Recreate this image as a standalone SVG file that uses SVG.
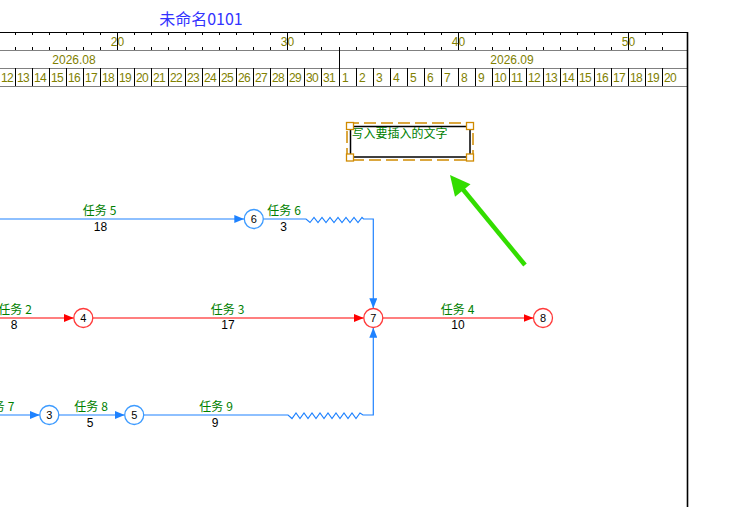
<svg xmlns="http://www.w3.org/2000/svg" width="734" height="507" viewBox="0 0 734 507">
<style>
.rt{font-family:"Liberation Sans",sans-serif;font-size:12px;fill:#808000}
.day{letter-spacing:-0.6px}
.mid{text-anchor:middle}
.lbl{font-family:"Noto Sans CJK SC",sans-serif;font-size:12px;fill:#008000;text-anchor:middle}
.num{font-family:"Liberation Sans",sans-serif;font-size:12px;fill:#000;text-anchor:middle}
.nd circle{fill:#fff;stroke-width:1.3}
.nd text{font-family:"Liberation Sans",sans-serif;font-size:11px;fill:#000;text-anchor:middle}
.nb circle{stroke:#3d9bff}
.nr circle{stroke:#ff3a3a}
.eb{fill:none;stroke:#1e82ff;stroke-width:1.2}
.er{fill:none;stroke:#ff0000;stroke-width:1.2}
</style>
<defs>
<marker id="ab" markerUnits="userSpaceOnUse" markerWidth="10" markerHeight="8" refX="10" refY="4" orient="auto"><path d="M0,0 L10,4 L0,8 z" fill="#1e82ff"/></marker>
<marker id="ar" markerUnits="userSpaceOnUse" markerWidth="10" markerHeight="8" refX="10" refY="4" orient="auto"><path d="M0,0 L10,4 L0,8 z" fill="#ff0000"/></marker>
</defs>
<rect width="734" height="507" fill="#fff"/>
<text x="201" y="25" text-anchor="middle" style="font-family:'Noto Sans CJK SC',sans-serif;font-size:16px;fill:#3333ff">未命名0101</text>
<g id="ruler">
<path d="M0,50.5 H687 M0,68.5 H687 M0,86.5 H687" stroke="#808080" stroke-width="1" fill="none"/>
<path d="M0,32.5 H688" stroke="#000" stroke-width="1.2" fill="none"/>
<path stroke="#000" stroke-width="1" fill="none" d="M15.5,32v3M32.5,32v3M49.5,32v3M66.5,32v3M83.5,32v3M100.5,32v3M134.5,32v3M151.5,32v3M168.5,32v3M185.5,32v3M202.5,32v3M219.5,32v3M236.5,32v3M253.5,32v3M270.5,32v3M304.5,32v3M321.5,32v3M339.5,32v3M356.5,32v3M373.5,32v3M390.5,32v3M407.5,32v3M424.5,32v3M441.5,32v3M475.5,32v3M492.5,32v3M509.5,32v3M526.5,32v3M543.5,32v3M560.5,32v3M577.5,32v3M594.5,32v3M611.5,32v3M645.5,32v3M662.5,32v3
M15.5,47v3M32.5,47v3M49.5,47v3M66.5,47v3M83.5,47v3M100.5,47v3M134.5,47v3M151.5,47v3M168.5,47v3M185.5,47v3M202.5,47v3M219.5,47v3M236.5,47v3M253.5,47v3M270.5,47v3M304.5,47v3M321.5,47v3M356.5,47v3M373.5,47v3M390.5,47v3M407.5,47v3M424.5,47v3M441.5,47v3M475.5,47v3M492.5,47v3M509.5,47v3M526.5,47v3M543.5,47v3M560.5,47v3M577.5,47v3M594.5,47v3M611.5,47v3M645.5,47v3M662.5,47v3
M117.5,32V50M287.5,32V50M458.5,32V50M628.5,32V50M339.5,47V86
M15.5,68v18M32.5,68v18M49.5,68v18M66.5,68v18M83.5,68v18M100.5,68v18M117.5,68v18M134.5,68v18M151.5,68v18M168.5,68v18M185.5,68v18M202.5,68v18M219.5,68v18M236.5,68v18M253.5,68v18M270.5,68v18M287.5,68v18M304.5,68v18M321.5,68v18M356.5,68v18M373.5,68v18M390.5,68v18M407.5,68v18M424.5,68v18M441.5,68v18M458.5,68v18M475.5,68v18M492.5,68v18M509.5,68v18M526.5,68v18M543.5,68v18M560.5,68v18M577.5,68v18M594.5,68v18M611.5,68v18M628.5,68v18M645.5,68v18M662.5,68v18"/>
<text class="rt mid" x="117.5" y="45.5">20</text>
<text class="rt mid" x="287.5" y="45.5">30</text>
<text class="rt mid" x="458.5" y="45.5">40</text>
<text class="rt mid" x="628.5" y="45.5">50</text>
<text class="rt mid" x="74" y="63.5">2026.08</text>
<text class="rt mid" x="512" y="63.5">2026.09</text>
<g class="rt day">
<text x="1" y="81.5">12</text><text x="17" y="81.5">13</text><text x="34" y="81.5">14</text><text x="51" y="81.5">15</text><text x="68" y="81.5">16</text><text x="85" y="81.5">17</text><text x="102" y="81.5">18</text><text x="119" y="81.5">19</text><text x="136" y="81.5">20</text><text x="153" y="81.5">21</text><text x="170" y="81.5">22</text><text x="187" y="81.5">23</text><text x="204" y="81.5">24</text><text x="221" y="81.5">25</text><text x="238" y="81.5">26</text><text x="255" y="81.5">27</text><text x="272" y="81.5">28</text><text x="289" y="81.5">29</text><text x="306" y="81.5">30</text><text x="323" y="81.5">31</text>
<text x="342" y="81.5">1</text><text x="359" y="81.5">2</text><text x="376" y="81.5">3</text><text x="393" y="81.5">4</text><text x="410" y="81.5">5</text><text x="427" y="81.5">6</text><text x="444" y="81.5">7</text><text x="461" y="81.5">8</text><text x="478" y="81.5">9</text><text x="494" y="81.5">10</text><text x="511" y="81.5">11</text><text x="528" y="81.5">12</text><text x="545" y="81.5">13</text><text x="562" y="81.5">14</text><text x="579" y="81.5">15</text><text x="596" y="81.5">16</text><text x="613" y="81.5">17</text><text x="630" y="81.5">18</text><text x="647" y="81.5">19</text><text x="664" y="81.5">20</text>
</g>
<path d="M687.5,32V507" stroke="#000" stroke-width="1.6"/>
</g>
<g id="connectors">
<path class="eb" d="M0,219 H244.3" marker-end="url(#ab)"/>
<path class="eb" d="M263.3,219 H306 L310,222.5 L314,217.5 L318,222.5 L322,217.5 L326,222.5 L330,217.5 L334,222.5 L338,217.5 L342,222.5 L346,217.5 L350,222.5 L354,217.5 L358,222.5 L362,217.5 L363.5,219 H373.3 V308.3" marker-end="url(#ab)"/>
<path class="er" d="M0,318 H73.8" marker-end="url(#ar)"/>
<path class="er" d="M92.8,318 H363.8" marker-end="url(#ar)"/>
<path class="er" d="M382.8,318 H533.5" marker-end="url(#ar)"/>
<path class="eb" d="M0,415 H39.8" marker-end="url(#ab)"/>
<path class="eb" d="M58.8,415 H124.7" marker-end="url(#ab)"/>
<path class="eb" d="M143.7,415 H288 L292,418.5 L296,413 L300,418.5 L304,413 L308,418.5 L312,413 L316,418.5 L320,413 L324,418.5 L328,413 L332,418.5 L336,413 L340,418.5 L344,413 L348,418.5 L352,413 L356,418.5 L360,413 L363,415 H373.3 V327.7" marker-end="url(#ab)"/>
<text class="lbl" x="99.5" y="215">任务<tspan dx="3">5</tspan></text><text class="num" x="100.5" y="231">18</text>
<text class="lbl" x="284" y="215">任务<tspan dx="3">6</tspan></text><text class="num" x="283.5" y="231">3</text>
<text class="lbl" x="15" y="314">任务<tspan dx="3">2</tspan></text><text class="num" x="14.2" y="329">8</text>
<text class="lbl" x="227.5" y="314">任务<tspan dx="3">3</tspan></text><text class="num" x="228" y="329">17</text>
<text class="lbl" x="457.5" y="314">任务<tspan dx="3">4</tspan></text><text class="num" x="458" y="329">10</text>
<text class="lbl" x="-2.5" y="411">任务<tspan dx="3">7</tspan></text>
<text class="lbl" x="91" y="411">任务<tspan dx="3">8</tspan></text><text class="num" x="90.2" y="427">5</text>
<text class="lbl" x="216" y="411">任务<tspan dx="3">9</tspan></text><text class="num" x="215" y="427">9</text>
</g>
<g id="node3" class="nd nb"><circle cx="49.3" cy="415" r="9.5"/><text x="49.3" y="419">3</text></g>
<g id="node4" class="nd nr"><circle cx="83.3" cy="318" r="9.5"/><text x="83.3" y="322">4</text></g>
<g id="node5" class="nd nb"><circle cx="134.2" cy="415" r="9.5"/><text x="134.2" y="419">5</text></g>
<g id="node6" class="nd nb"><circle cx="253.8" cy="219" r="9.5"/><text x="253.8" y="223">6</text></g>
<g id="node7" class="nd nr"><circle cx="373.3" cy="318" r="9.5"/><text x="373.3" y="322">7</text></g>
<g id="node8" class="nd nr"><circle cx="543" cy="318" r="9.5"/><text x="543" y="322">8</text></g>
<g id="textbox">
<rect x="347" y="123" width="126" height="37" fill="none" stroke="#d08a00" stroke-width="1.5" stroke-dasharray="12,5"/>
<rect x="350.5" y="126.5" width="119.5" height="30.5" fill="#fff" stroke="#000" stroke-width="1.5"/>
<text x="351.5" y="138" style="font-family:'Noto Sans CJK SC',sans-serif;font-size:12px;fill:#008000">写入要插入的文字</text>
<g fill="#fff" stroke="#d08a00" stroke-width="1.3">
<rect x="346.5" y="122.5" width="7" height="7"/><rect x="466.5" y="122.5" width="7" height="7"/>
<rect x="346.5" y="154" width="7" height="7"/><rect x="466.5" y="154" width="7" height="7"/>
</g>
</g>
<g id="pointer">
<path d="M525,265 L461,187" stroke="#33dd00" stroke-width="4.5" fill="none"/>
<path d="M450,175 L470.5,184.3 L455,196.7 z" fill="#33dd00"/>
</g>
</svg>
